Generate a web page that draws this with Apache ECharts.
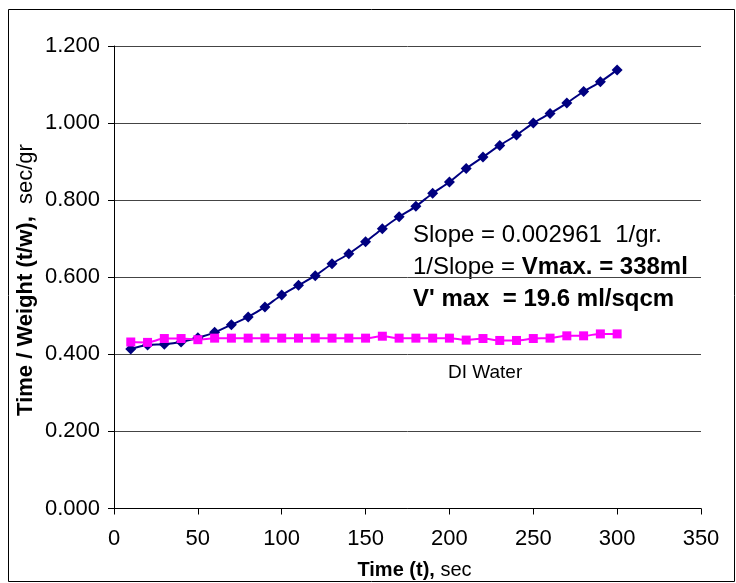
<!DOCTYPE html>
<html>
<head>
<meta charset="utf-8">
<script src="https://cdn.jsdelivr.net/npm/echarts@6/dist/echarts.min.js"></script>
<style>
html,body{margin:0;padding:0;background:#fff;}
#c{width:736px;height:583px;}
</style>
</head>
<body>
<div id="c"></div>
<script>
const timeSec = [10,20,30,40,50,60,70,80,90,100,110,120,130,140,150,160,170,180,190,200,210,220,230,240,250,260,270,280,290,300];
const sampleRatio = [0.414,0.424,0.426,0.432,0.443,0.457,0.477,0.497,0.523,0.554,0.579,0.604,0.635,0.661,0.692,0.726,0.757,0.784,0.818,0.847,0.882,0.912,0.942,0.969,1.000,1.025,1.052,1.082,1.107,1.138];
const waterRatio = [0.432,0.431,0.441,0.441,0.438,0.442,0.442,0.442,0.442,0.442,0.442,0.442,0.442,0.442,0.442,0.447,0.442,0.442,0.442,0.442,0.437,0.441,0.436,0.436,0.441,0.442,0.448,0.448,0.453,0.453];
const xTicks = {min:0, max:350, interval:50};
const yTicks = {min:0, max:1.2, interval:0.2};
const annotation = {
  line1: 'Slope = 0.002961  1/gr.',
  line2a: '1/Slope = ', line2b: 'Vmax. = 338ml',
  line3: "V' max  = 19.6 ml/sqcm"
};
const waterLabel = 'DI Water';

const font = 'Arial, "Liberation Sans", sans-serif';
const chart = echarts.init(document.getElementById('c'));
chart.setOption({
  backgroundColor:'#fff',
  animation:false,
  grid:{left:114, right:35, top:46, bottom:74.5, containLabel:false},
  xAxis:{
    type:'value', min:xTicks.min, max:xTicks.max, interval:xTicks.interval,
    axisLine:{show:true, onZero:false, lineStyle:{color:'#000', width:1}},
    axisTick:{show:true, length:6, lineStyle:{color:'#000'}},
    axisLabel:{color:'#000', fontFamily:font, fontSize:22, margin:19},
    splitLine:{show:false}
  },
  yAxis:{
    type:'value', min:yTicks.min, max:yTicks.max, interval:yTicks.interval,
    axisLine:{show:true, lineStyle:{color:'#000', width:1}},
    axisTick:{show:true, length:6, lineStyle:{color:'#000'}},
    axisLabel:{color:'#000', fontFamily:font, fontSize:22, margin:14, formatter:v=>v.toFixed(3)},
    splitLine:{show:true, lineStyle:{color:'#444', width:1}}
  },
  series:[
    {
      type:'line', smooth:0.3,
      data: timeSec.map((t,i)=>[t, sampleRatio[i]]),
      symbol:'diamond', symbolSize:11,
      lineStyle:{color:'#000080', width:2},
      itemStyle:{color:'#000080'}
    },
    {
      type:'line', smooth:0.3,
      data: timeSec.map((t,i)=>[t, waterRatio[i]]),
      symbol:'rect', symbolSize:9,
      lineStyle:{color:'#FF00FF', width:2},
      itemStyle:{color:'#FF00FF'}
    }
  ],
  graphic:[
    {type:'rect', shape:{x:8.5, y:9.5, width:726, height:572}, style:{fill:'none', stroke:'#000', lineWidth:1}, silent:true},
    {type:'text', x:413, y:235, style:{text:annotation.line1, font:'24px '+font, fill:'#000', verticalAlign:'middle'}},
    {type:'text', x:413, y:267.5, style:{
      text:'{n|'+annotation.line2a+'}{b|'+annotation.line2b+'}', verticalAlign:'middle',
      rich:{n:{fontSize:24, fontFamily:font, color:'#000'}, b:{fontSize:24, fontFamily:font, fontWeight:'bold', color:'#000'}}
    }},
    {type:'text', x:413, y:299, style:{text:annotation.line3, font:'bold 24px '+font, fill:'#000', verticalAlign:'middle'}},
    {type:'text', x:448, y:373, style:{text:waterLabel, font:'19px '+font, fill:'#000', verticalAlign:'middle'}},
    {type:'text', x:414.5, y:570, style:{
      text:'{b|Time (t),}{n| sec}', align:'center', verticalAlign:'middle',
      rich:{b:{fontSize:20, fontFamily:font, fontWeight:'bold', color:'#000'}, n:{fontSize:20, fontFamily:font, color:'#000'}}
    }},
    {type:'text', x:26, y:280, rotation:Math.PI/2, style:{
      text:'{b|Time / Weight (t/w),}{n|  sec/gr}', align:'center', verticalAlign:'middle',
      rich:{b:{fontSize:22, fontFamily:font, fontWeight:'bold', color:'#000'}, n:{fontSize:22, fontFamily:font, color:'#000'}}
    }}
  ]
});
</script>
</body>
</html>
